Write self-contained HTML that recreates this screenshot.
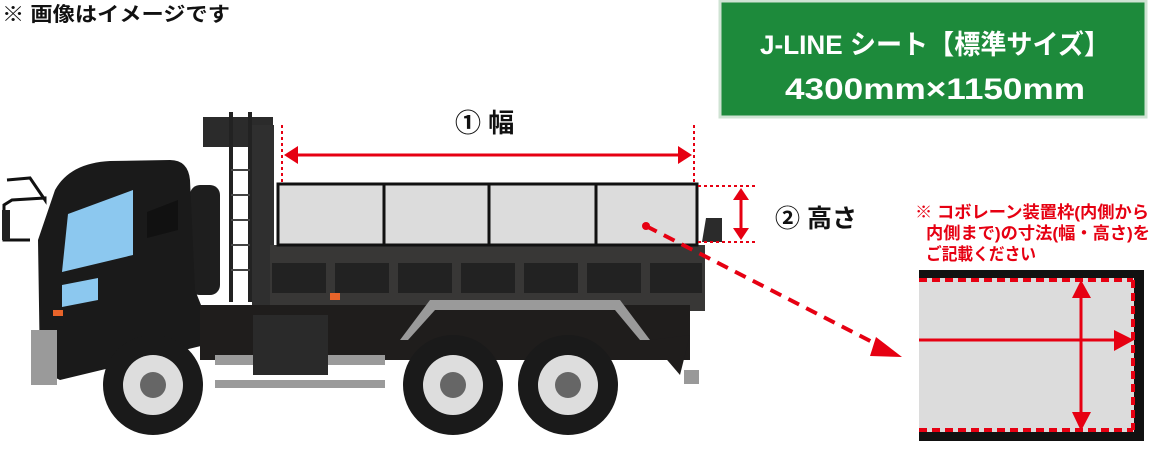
<!DOCTYPE html>
<html><head><meta charset="utf-8"><style>
html,body{margin:0;padding:0;background:#fff;width:1151px;height:475px;overflow:hidden}
svg{display:block}
text{font-family:"Liberation Sans","Noto Sans CJK JP",sans-serif;font-weight:bold}
</style></head><body>
<svg width="1151" height="475" viewBox="0 0 1151 475" xmlns="http://www.w3.org/2000/svg">
<text x="2" y="21" font-size="20" fill="#111" textLength="228" lengthAdjust="spacingAndGlyphs">※ 画像はイメージです</text>
<rect x="720" y="1" width="426" height="116" fill="#1d8a3b" stroke="#cfe3d3" stroke-width="3"/>
<text x="935" y="54" font-size="27" fill="#fff" text-anchor="middle" textLength="350" lengthAdjust="spacingAndGlyphs">J-LINE シート【標準サイズ】</text>
<text x="935" y="99" font-size="30" fill="#fff" text-anchor="middle" textLength="300" lengthAdjust="spacingAndGlyphs">4300mm×1150mm</text>

<!-- truck -->
<rect x="203" y="117" width="70" height="30" fill="#2b2b2b"/>
<rect x="229" y="112" width="4" height="190" fill="#222"/>
<rect x="248" y="112" width="4" height="190" fill="#222"/>
<rect x="252" y="125" width="22" height="185" fill="#2f2f2f"/>
<g stroke="#444" stroke-width="2"><line x1="231" y1="170" x2="250" y2="170"/><line x1="231" y1="195" x2="250" y2="195"/><line x1="231" y1="220" x2="250" y2="220"/><line x1="231" y1="245" x2="250" y2="245"/><line x1="231" y1="270" x2="250" y2="270"/></g>
<rect x="190" y="185" width="30" height="110" rx="10" fill="#1e1e1e"/>
<path d="M55 190 Q70 163 110 161 L170 160 Q188 160 190 180 L195 290 L205 315 L205 345 L60 380 L40 370 L38 240 Z" fill="#1a1a1a"/>
<path d="M68 214 L133 190 L133 255 L62 272 Z" fill="#8cc8ef"/>
<path d="M147 212 L178 200 L178 230 L147 238 Z" fill="#111"/>
<path d="M62 285 L98 278 L98 300 L62 307 Z" fill="#8cc8ef"/>
<rect x="53" y="310" width="10" height="6" fill="#e8642a"/>
<path d="M7 180 L30 178 L45 200 L45 198 L12 200 L4 205 L4 240 L30 240" fill="none" stroke="#111" stroke-width="3"/>
<rect x="2" y="210" width="8" height="30" fill="#222"/>
<rect x="31" y="330" width="26" height="55" fill="#9a9a9a"/>
<rect x="270" y="245" width="435" height="66" fill="#383736"/>
<g fill="#222"><rect x="272" y="263" width="54" height="30"/><rect x="335" y="263" width="54" height="30"/><rect x="398" y="263" width="54" height="30"/><rect x="461" y="263" width="54" height="30"/><rect x="524" y="263" width="54" height="30"/><rect x="587" y="263" width="54" height="30"/><rect x="650" y="263" width="52" height="30"/></g>
<rect x="200" y="305" width="490" height="55" fill="#1f1d1c"/>
<rect x="330" y="293" width="10" height="7" fill="#e8642a"/>
<path d="M400 340 L430 300 L620 300 L650 340 L640 340 L615 310 L435 310 L408 340 Z" fill="#9a9a9a"/>
<rect x="215" y="355" width="170" height="10" fill="#9a9a9a"/>
<rect x="215" y="380" width="170" height="8" fill="#9a9a9a"/>
<rect x="253" y="315" width="75" height="60" fill="#2a2a2a"/>
<rect x="684" y="370" width="15" height="14" fill="#999"/>
<path d="M650 340 L690 335 L680 375 Z" fill="#1f1d1c"/>
<g>
<circle cx="153" cy="385" r="50" fill="#1a1a1a"/><circle cx="153" cy="385" r="30" fill="#ddd"/><circle cx="153" cy="385" r="13" fill="#666"/>
<circle cx="453" cy="385" r="50" fill="#1a1a1a"/><circle cx="453" cy="385" r="30" fill="#ddd"/><circle cx="453" cy="385" r="13" fill="#666"/>
<circle cx="568" cy="385" r="50" fill="#1a1a1a"/><circle cx="568" cy="385" r="30" fill="#ddd"/><circle cx="568" cy="385" r="13" fill="#666"/>
</g>
<path d="M706 218 L722 218 L722 242 L702 242 Z" fill="#2b2b2b"/>
<rect x="278" y="184" width="419" height="61" fill="#dcdcdc" stroke="#111" stroke-width="3"/>
<g stroke="#111" stroke-width="3"><line x1="384" y1="184" x2="384" y2="245"/><line x1="489" y1="184" x2="489" y2="245"/><line x1="596" y1="184" x2="596" y2="245"/></g>

<!-- dimensions -->
<g stroke="#e60012" fill="#e60012">
<line x1="282" y1="125" x2="282" y2="185" stroke-width="2" stroke-dasharray="3,3"/>
<line x1="694" y1="125" x2="694" y2="185" stroke-width="2" stroke-dasharray="3,3"/>
<line x1="295" y1="155" x2="682" y2="155" stroke-width="3"/>
<path d="M284 155 L298 146 L298 164 Z" stroke="none"/><path d="M692 155 L678 146 L678 164 Z" stroke="none"/>
<line x1="698" y1="186" x2="757" y2="186" stroke-width="2" stroke-dasharray="3,3"/>
<line x1="698" y1="242" x2="757" y2="242" stroke-width="2" stroke-dasharray="3,3"/>
<line x1="741" y1="195" x2="741" y2="233" stroke-width="3"/>
<path d="M741 188 L733 200 L749 200 Z" stroke="none"/><path d="M741 240 L733 228 L749 228 Z" stroke="none"/>
<circle cx="646" cy="226" r="4" stroke="none"/>
<line x1="646" y1="226" x2="880" y2="346" stroke-width="4" stroke-dasharray="12,8"/>
<path d="M902 357 L876 337 L870 356 Z" stroke="none"/>
</g>
<text x="455" y="132" font-size="26" fill="#111">① 幅</text>
<text x="775" y="227" font-size="25" fill="#111">② 高さ</text>
<text x="915" y="218" font-size="17" fill="#e60012" textLength="234" lengthAdjust="spacingAndGlyphs">※ コボレーン装置枠(内側から</text>
<text x="926" y="239" font-size="17" fill="#e60012" textLength="224" lengthAdjust="spacingAndGlyphs">内側まで)の寸法(幅・高さ)を</text>
<text x="926" y="260" font-size="17" fill="#e60012" textLength="110" lengthAdjust="spacingAndGlyphs">ご記載ください</text>

<rect x="919" y="270" width="225" height="171" fill="#111"/>
<rect x="919" y="278" width="215" height="154" fill="#dcdcdc"/>
<g stroke="#e60012" fill="#e60012">
<line x1="919" y1="280" x2="1133" y2="280" stroke-width="4" stroke-dasharray="8,5"/>
<line x1="919" y1="430" x2="1133" y2="430" stroke-width="4" stroke-dasharray="8,5"/>
<line x1="1133" y1="280" x2="1133" y2="430" stroke-width="4" stroke-dasharray="8,5"/>
<line x1="919" y1="340" x2="1120" y2="340" stroke-width="3"/>
<path d="M1134 340 L1114 330 L1114 351 Z" stroke="none"/>
<line x1="1081" y1="295" x2="1081" y2="415" stroke-width="3"/>
<path d="M1081 280 L1072 298 L1091 298 Z" stroke="none"/><path d="M1081 431 L1072 412 L1091 412 Z" stroke="none"/>
</g>
</svg>
</body></html>
